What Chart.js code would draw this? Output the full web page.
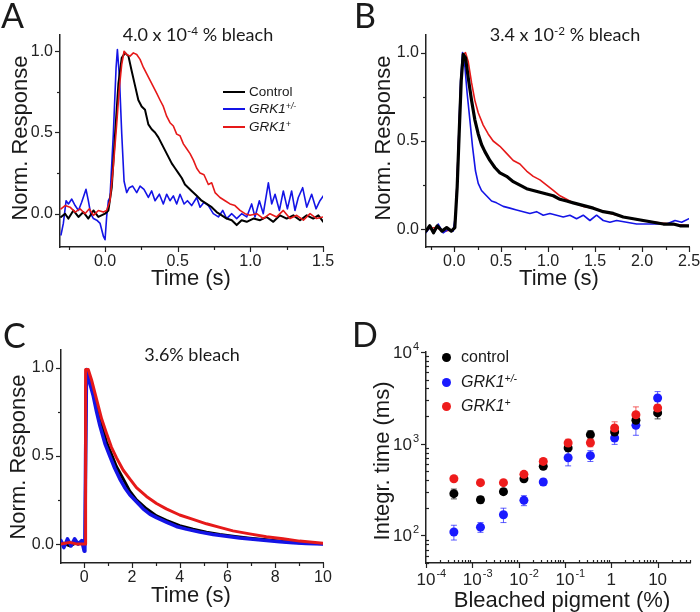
<!DOCTYPE html>
<html>
<head>
<meta charset="utf-8">
<script src="https://cdn.jsdelivr.net/npm/chart.js@4.4.1/dist/chart.umd.min.js"></script>
<style>
  html, body { margin: 0; padding: 0; background: #fff; }
  body { position: relative; width: 700px; height: 612px; overflow: hidden;
         font-family: "Liberation Sans", Arial, sans-serif; color: #1a1a1a; }
  canvas { position: absolute; left: 0; top: 0; }
  .t { position: absolute; white-space: nowrap; line-height: 1; z-index: 5; }
  .letter { font-family: Lato, sans-serif; font-size: 34px; }
  .title { font-family: Lato, sans-serif; font-size: 18px; transform: translateX(-50%); }
  .ytitle { font-size: 22px; transform: translate(-50%, -50%) rotate(-90deg); }
  .xtitle { font-size: 22px; transform: translate(-50%, -50%); }
  sup { font-size: 0.65em; vertical-align: 0.5em; line-height: 0; }
  .leg { position: absolute; z-index: 5; display: flex; align-items: center; white-space: nowrap; line-height: 1; }
  .leg .ln { display: inline-block; width: 22px; height: 2px; margin-right: 4px; }
  .leg .dot { display: inline-block; width: 9px; height: 9px; border-radius: 50%; margin-right: 10px; }
</style>
</head>
<body>
<canvas id="chartA" width="700" height="612"></canvas>
<canvas id="chartB" width="700" height="612"></canvas>
<canvas id="chartC" width="700" height="612"></canvas>
<canvas id="chartD" width="700" height="612"></canvas>

<div class="t letter" style="left:1px;top:-2px">A</div>
<div class="t letter" style="left:354px;top:-2px">B</div>
<div class="t letter" style="left:3px;top:318px">C</div>
<div class="t letter" style="left:352px;top:317px">D</div>

<div class="t title" style="left:198px;top:25px">4.0 x 10<sup>-4</sup> % bleach</div>
<div class="t title" style="left:565px;top:25px">3.4 x 10<sup>-2</sup> % bleach</div>
<div class="t title" style="left:192px;top:345px">3.6% bleach</div>

<div class="t ytitle" style="left:20px;top:138px">Norm. Response</div>
<div class="t ytitle" style="left:383px;top:138px">Norm. Response</div>
<div class="t ytitle" style="left:18px;top:457px">Norm. Response</div>
<div class="t ytitle" style="left:382px;top:461px">Integr. time (ms)</div>
<div class="t xtitle" style="left:191px;top:278px">Time (s)</div>
<div class="t xtitle" style="left:559px;top:278px">Time (s)</div>
<div class="t xtitle" style="left:191px;top:595px">Time (s)</div>
<div class="t xtitle" style="left:562px;top:600px">Bleached pigment (%)</div>

<div class="leg" style="left:223px;top:84px;height:16px;font-size:13.5px"><span class="ln" style="background:#000"></span>Control</div>
<div class="leg" style="left:223px;top:101px;height:16px;font-size:13.5px"><span class="ln" style="background:#1414e6"></span><i>GRK1<sup>+/-</sup></i></div>
<div class="leg" style="left:223px;top:119px;height:16px;font-size:13.5px"><span class="ln" style="background:#e61919"></span><i>GRK1<sup>+</sup></i></div>

<div class="leg" style="left:442px;top:349px;height:16px;font-size:16px"><span class="dot" style="background:#000"></span>control</div>
<div class="leg" style="left:442px;top:374px;height:16px;font-size:16px"><span class="dot" style="background:#1a1aff"></span><i>GRK1<sup>+/-</sup></i></div>
<div class="leg" style="left:442px;top:398px;height:16px;font-size:16px"><span class="dot" style="background:#ee1c1c"></span><i>GRK1<sup>+</sup></i></div>

<script>
// ---- panel A: 4.0e-4 % bleach, [time s, normalised response]
const aControl = [[-0.303,-0.02],[-0.275,0.0],[-0.252,-0.03],[-0.218,0.02],[-0.183,-0.02],[-0.149,0.01],[-0.115,-0.03],[-0.08,0.02],[-0.046,-0.02],[0,0],[0.023,0.02],[0.046,0.16],[0.069,0.49],[0.092,0.8],[0.115,0.96],[0.138,0.99],[0.161,0.97],[0.183,0.88],[0.206,0.79],[0.229,0.7],[0.252,0.66],[0.275,0.64],[0.298,0.55],[0.321,0.52],[0.344,0.5],[0.367,0.47],[0.39,0.43],[0.413,0.39],[0.436,0.35],[0.459,0.31],[0.482,0.28],[0.505,0.25],[0.528,0.22],[0.55,0.18],[0.573,0.16],[0.596,0.14],[0.631,0.11],[0.665,0.08],[0.7,0.06],[0.734,0.04],[0.768,0.01],[0.803,-0.01],[0.837,-0.03],[0.872,-0.04],[0.906,-0.07],[0.94,-0.04],[0.975,-0.05],[1.021,-0.03],[1.067,-0.04],[1.112,-0.02],[1.158,-0.05],[1.204,-0.01],[1.25,-0.03],[1.296,-0.01],[1.342,-0.04],[1.388,-0.01],[1.433,-0.03],[1.468,-0.01],[1.502,-0.05]];
const aHet = [[-0.303,-0.13],[-0.287,-0.06],[-0.268,0.08],[-0.252,0.06],[-0.229,0.09],[-0.206,0.05],[-0.183,0.02],[-0.161,0.07],[-0.131,0.15],[-0.115,0.08],[-0.099,0.0],[-0.08,-0.03],[-0.057,-0.04],[-0.034,-0.06],[-0.011,-0.14],[0,-0.16],[0.011,-0.02],[0.023,0.08],[0.034,0.1],[0.057,0.49],[0.076,0.9],[0.085,1.01],[0.099,0.84],[0.115,0.49],[0.131,0.2],[0.149,0.13],[0.167,0.16],[0.19,0.17],[0.218,0.13],[0.241,0.17],[0.268,0.15],[0.298,0.1],[0.321,0.14],[0.344,0.08],[0.374,0.12],[0.401,0.06],[0.424,0.12],[0.447,0.08],[0.47,0.11],[0.493,0.06],[0.516,0.12],[0.544,0.06],[0.567,0.08],[0.596,0.05],[0.631,0.1],[0.654,0.04],[0.681,0.07],[0.711,0.05],[0.745,0.0],[0.78,-0.02],[0.81,0.02],[0.837,-0.03],[0.872,0.0],[0.906,-0.03],[0.94,0.0],[0.975,-0.02],[1.009,0.06],[1.032,-0.02],[1.062,0.08],[1.089,0.0],[1.124,0.19],[1.147,0.06],[1.17,0.12],[1.2,0.02],[1.227,0.14],[1.255,0.03],[1.284,0.14],[1.307,0.02],[1.33,0.1],[1.36,0.16],[1.388,0.04],[1.422,0.12],[1.452,0.03],[1.479,0.08],[1.502,0.11]];
const aOver = [[-0.303,0.03],[-0.275,0.05],[-0.241,0.04],[-0.206,0.01],[-0.172,0.03],[-0.138,0.0],[-0.108,0.03],[-0.08,-0.01],[-0.046,0.02],[-0.011,0.01],[0.011,0.02],[0.034,0.08],[0.057,0.29],[0.08,0.55],[0.099,0.78],[0.115,0.92],[0.131,1.0],[0.149,0.98],[0.172,0.97],[0.195,0.99],[0.218,0.98],[0.241,0.95],[0.264,0.9],[0.287,0.86],[0.31,0.82],[0.333,0.78],[0.356,0.74],[0.378,0.7],[0.401,0.66],[0.424,0.6],[0.447,0.56],[0.47,0.54],[0.493,0.49],[0.516,0.48],[0.539,0.43],[0.562,0.4],[0.585,0.37],[0.608,0.33],[0.631,0.28],[0.654,0.25],[0.681,0.24],[0.711,0.18],[0.734,0.19],[0.757,0.13],[0.791,0.1],[0.826,0.08],[0.86,0.06],[0.894,0.05],[0.929,0.02],[0.963,0.0],[0.998,-0.01],[1.044,0.0],[1.089,-0.03],[1.135,0.0],[1.181,-0.02],[1.227,0.02],[1.273,-0.03],[1.319,-0.01],[1.365,-0.04],[1.411,0.0],[1.456,-0.03],[1.502,-0.02]];
const aXTicks = [-0.25, 0, 0.25, 0.5, 0.75, 1, 1.25, 1.5];
const aXLabels = ['', '0.0', '', '0.5', '', '1.0', '', '1.5'];

// ---- panel B: 3.4e-2 % bleach
const bControl = [[-0.3,-0.01],[-0.26,0.02],[-0.22,-0.02],[-0.18,0.02],[-0.13,-0.01],[-0.08,0.01],[-0.03,-0.01],[0.007,0.01],[0.032,0.24],[0.053,0.54],[0.075,0.84],[0.096,0.99],[0.121,0.97],[0.149,0.86],[0.185,0.73],[0.22,0.62],[0.256,0.54],[0.291,0.48],[0.327,0.44],[0.38,0.39],[0.433,0.35],[0.487,0.32],[0.558,0.3],[0.629,0.27],[0.7,0.25],[0.771,0.23],[0.842,0.22],[0.913,0.21],[0.984,0.2],[1.055,0.19],[1.126,0.17],[1.197,0.16],[1.268,0.15],[1.339,0.14],[1.41,0.13],[1.481,0.12],[1.587,0.1],[1.694,0.09],[1.8,0.07],[1.907,0.06],[2.013,0.05],[2.12,0.04],[2.227,0.03],[2.333,0.03],[2.404,0.02],[2.5,0.02]];
const bHet = [[-0.302,-0.02],[-0.259,0.01],[-0.206,-0.01],[-0.17,0.03],[-0.117,-0.02],[-0.064,0.0],[-0.011,-0.01],[0.018,0.09],[0.043,0.45],[0.067,0.83],[0.089,1.0],[0.114,0.92],[0.138,0.77],[0.167,0.62],[0.195,0.47],[0.227,0.33],[0.256,0.26],[0.291,0.22],[0.344,0.19],[0.398,0.16],[0.451,0.15],[0.522,0.13],[0.593,0.12],[0.664,0.11],[0.735,0.1],[0.806,0.09],[0.877,0.1],[0.948,0.08],[1.019,0.09],[1.09,0.08],[1.161,0.07],[1.232,0.08],[1.303,0.06],[1.374,0.08],[1.445,0.05],[1.516,0.08],[1.587,0.05],[1.658,0.04],[1.729,0.05],[1.836,0.04],[1.942,0.03],[2.049,0.03],[2.156,0.03],[2.262,0.03],[2.351,0.05],[2.422,0.04],[2.5,0.06]];
const bOver = [[-0.3,0.0],[-0.2,0.01],[-0.1,-0.01],[0.0,0.0],[0.018,0.09],[0.043,0.45],[0.071,0.83],[0.096,0.99],[0.121,1.0],[0.149,0.95],[0.185,0.83],[0.22,0.73],[0.256,0.66],[0.309,0.59],[0.362,0.54],[0.415,0.5],[0.487,0.47],[0.558,0.43],[0.629,0.39],[0.7,0.37],[0.771,0.33],[0.842,0.3],[0.913,0.28],[0.984,0.25],[1.055,0.22],[1.126,0.19],[1.197,0.17],[1.268,0.15],[1.374,0.13],[1.481,0.12],[1.6,0.1],[1.8,0.07],[2.0,0.05],[2.2,0.035],[2.4,0.025],[2.5,0.02]];
const bXTicks = [-0.25, 0, 0.25, 0.5, 0.75, 1, 1.25, 1.5, 1.75, 2, 2.25, 2.5];
const bXLabels = ['', '0.0', '', '0.5', '', '1.0', '', '1.5', '', '2.0', '', '2.5'];

// ---- panel C: 3.6 % bleach
const cControl = [[-0.97,0.01],[-0.6,-0.01],[-0.3,0.01],[0.0,0.0],[0.04,0.0],[0.08,0.9],[0.1,0.99],[0.31,0.9],[0.52,0.79],[0.73,0.68],[0.93,0.58],[1.14,0.51],[1.35,0.44],[1.63,0.37],[1.91,0.3],[2.19,0.25],[2.61,0.2],[3.03,0.16],[3.44,0.135],[4.0,0.105],[4.56,0.085],[5.12,0.068],[5.68,0.055],[6.23,0.045],[6.93,0.034],[7.63,0.025],[8.33,0.015],[9.02,0.008],[10,0.002]];
const cHet = [[-0.97,0.02],[-0.85,-0.02],[-0.7,0.03],[-0.55,-0.01],[-0.4,0.03],[-0.25,0.0],[-0.1,0.02],[0.0,-0.04],[0.03,-0.03],[0.06,0.5],[0.1,0.99],[0.24,0.91],[0.38,0.84],[0.52,0.75],[0.66,0.67],[0.87,0.57],[1.07,0.5],[1.28,0.43],[1.49,0.37],[1.7,0.32],[1.91,0.28],[2.19,0.24],[2.47,0.2],[2.75,0.17],[3.03,0.15],[3.44,0.125],[3.86,0.1],[4.28,0.085],[4.84,0.068],[5.4,0.055],[5.96,0.045],[6.51,0.035],[7.07,0.027],[7.63,0.02],[8.19,0.014],[8.75,0.008],[9.3,0.003],[10,0.0]];
const cOver = [[-0.97,0.0],[-0.6,0.01],[-0.3,0.0],[0.0,0.0],[0.05,0.0],[0.06,0.99],[0.17,0.99],[0.31,0.93],[0.52,0.82],[0.73,0.71],[0.93,0.63],[1.14,0.55],[1.35,0.49],[1.63,0.42],[1.91,0.37],[2.19,0.32],[2.61,0.27],[3.03,0.23],[3.44,0.2],[4.0,0.165],[4.56,0.14],[5.12,0.115],[5.68,0.095],[6.23,0.075],[6.93,0.058],[7.63,0.042],[8.33,0.03],[9.02,0.017],[10,0.005]];
const cXTicks = [0, 1, 2, 3, 4, 5, 6, 7, 8, 9, 10];
const cXLabels = ['0', '', '2', '', '4', '', '6', '', '8', '', '10'];

const respTicks = [0, 0.25, 0.5, 0.75, 1.0];
const respLabels = ['0.0', '', '0.5', '', '1.0'];

// ---- panel D: integration time vs bleached pigment
const dBleach = [4e-4, 1.5e-3, 4.7e-3, 1.3e-2, 3.4e-2, 0.117, 0.354, 1.18, 3.4, 10];
const dControl = [285, 245, 300, 415, 566, 900, 1255, 1340, 1800, 2165];
const dControlErr = [35, 20, 20, 30, 40, 80, 130, 130, 200, 300];
const dHet = [109, 123, 168, 241, 382, 703, 740, 1153, 1585, 3150];
const dHetErr = [20, 15, 30, 30, 30, 130, 100, 170, 350, 550];
const dOver = [415, 376, 376, 463, 641, 1017, 1025, 1482, 2070, 2450];
const dOverErr = [20, 15, 15, 30, 40, 100, 100, 250, 450, 200];
const dXMajor = [1e-4, 1e-3, 1e-2, 1e-1, 1, 10];
const dXLabels = ['10^-4', '10^-3', '10^-2', '10^-1', '1', '10'];
const dYMajor = [100, 1000, 10000];
const dYLabels = ['10^2', '10^3', '10^4'];

const INK = '#222';
const BLACK = '#000';
const BLUE = '#1414e6';
const RED = '#e61919';

// small outward tick marks, majors longer
const tickMarks = {
  id: 'tickMarks',
  afterDraw(chart, args, opts) {
    const ctx = chart.ctx;
    ctx.save();
    ctx.strokeStyle = INK;
    ctx.lineWidth = 1.2;
    ['x', 'y'].forEach(id => {
      const s = chart.scales[id];
      s.ticks.forEach(t => {
        const major = t.label !== '' && t.label !== undefined;
        const len = major ? 5 : 3;
        const dir = (!major && opts.minorIn) ? -1 : 1;
        const p = Math.round(s.getPixelForValue(t.value)) + 0.5;
        ctx.beginPath();
        if (id === 'x') { ctx.moveTo(p, s.top); ctx.lineTo(p, s.top + dir * len); }
        else { ctx.moveTo(s.right, p); ctx.lineTo(s.right - dir * len, p); }
        ctx.stroke();
      });
    });
    ctx.restore();
  }
};

function xyOf(pairs) {
  return pairs.map(p => ({ x: p[0], y: p[1] }));
}

function trace(pairs, color, width, order) {
  return { data: xyOf(pairs), borderColor: color, borderWidth: width,
           borderJoinStyle: 'round', borderCapStyle: 'round',
           pointRadius: 0, tension: 0, fill: false, order };
}

function fixedBox(size, horizontal) {
  return s => {
    if (horizontal) { s.height = size; s.paddingLeft = 0; s.paddingRight = 0; }
    else { s.width = size; s.paddingTop = 0; s.paddingBottom = 0; }
  };
}

function tracePanel(id, area, xr, yr, xTicks, xLabels, datasets) {
  new Chart(document.getElementById(id), {
    type: 'line',
    data: { datasets },
    options: {
      responsive: false,
      animation: false,
      devicePixelRatio: 1,
      layout: { padding: { left: area.l - 50, right: 700 - area.r, top: area.t, bottom: 612 - area.b - 40 } },
      plugins: { legend: { display: false }, tooltip: { enabled: false }, tickMarks: { minorIn: false } },
      scales: {
        x: {
          type: 'linear', min: xr[0], max: xr[1],
          afterBuildTicks: s => { s.ticks = xTicks.map(v => ({ value: v })); },
          afterFit: fixedBox(40, true),
          ticks: { callback: (v, i) => xLabels[i], font: { family: 'Liberation Sans', size: 16 },
                   color: INK, padding: 5, maxRotation: 0, autoSkip: false },
          grid: { display: false, drawTicks: false },
          border: { color: INK, width: 1.5 }
        },
        y: {
          type: 'linear', min: yr[0], max: yr[1],
          afterBuildTicks: s => { s.ticks = respTicks.map(v => ({ value: v })); },
          afterFit: fixedBox(50, false),
          ticks: { callback: (v, i) => respLabels[i], font: { family: 'Liberation Sans', size: 16 },
                   color: INK, padding: 7, autoSkip: false },
          grid: { display: false, drawTicks: false },
          border: { color: INK, width: 1.5 }
        }
      }
    },
    plugins: [tickMarks]
  });
}

tracePanel('chartA', { l: 60, r: 323, t: 35, b: 247 }, [-0.31, 1.5], [-0.205, 1.1], aXTicks, aXLabels, [
  trace(aOver, RED, 1.6, 0),
  trace(aControl, BLACK, 2, 1),
  trace(aHet, BLUE, 1.6, 2)
]);

tracePanel('chartB', { l: 426, r: 689, t: 35, b: 247 }, [-0.3, 2.5], [-0.1, 1.1], bXTicks, bXLabels, [
  trace(bControl, BLACK, 3.2, 0),
  trace(bHet, BLUE, 1.6, 1),
  trace(bOver, RED, 1.6, 2)
]);

tracePanel('chartC', { l: 61, r: 323, t: 350, b: 563 }, [-0.97, 10], [-0.107, 1.1], cXTicks, cXLabels, [
  trace(cOver, RED, 3, 0),
  trace(cHet, BLUE, 3.5, 1),
  trace(cControl, BLACK, 3, 2)
]);

// ---- panel D helpers
function logTicks(lo, hi) {
  const out = [];
  for (let e = Math.floor(Math.log10(lo)); e <= Math.ceil(Math.log10(hi)); e++) {
    for (let m = 1; m <= 9; m++) {
      const v = +(m * Math.pow(10, e)).toPrecision(3);
      if (v >= lo * 0.999 && v <= hi * 1.001) out.push(v);
    }
  }
  return out;
}

function labelFor(majors, labels) {
  return v => {
    const i = majors.findIndex(m => Math.abs(Math.log10(m) - Math.log10(v)) < 1e-6);
    return i >= 0 ? labels[i] : '';
  };
}

function drawPower(ctx, text, x, y, align) {
  const parts = text.split('^');
  ctx.font = '17px "Liberation Sans"';
  const bw = ctx.measureText(parts[0]).width;
  ctx.font = '11px "Liberation Sans"';
  const ew = parts[1] ? ctx.measureText(parts[1]).width + 1 : 0;
  const left = align === 'center' ? x - bw / 2 : x - bw - ew;
  ctx.textAlign = 'left';
  ctx.textBaseline = 'alphabetic';
  ctx.font = '17px "Liberation Sans"';
  ctx.fillText(parts[0], left, y);
  if (parts[1]) {
    ctx.font = '11px "Liberation Sans"';
    ctx.fillText(parts[1], left + bw + 1, y - 8);
  }
}

const powerLabels = {
  id: 'powerLabels',
  afterDraw(chart) {
    const { ctx, scales: { x, y } } = chart;
    ctx.save();
    ctx.fillStyle = INK;
    x.ticks.forEach(t => {
      if (t.label) drawPower(ctx, t.label, x.getPixelForValue(t.value), x.top + 22, 'center');
    });
    y.ticks.forEach(t => {
      if (t.label) drawPower(ctx, t.label, y.right - 7, y.getPixelForValue(t.value) + 6, 'right');
    });
    ctx.restore();
  }
};

const errorBars = {
  id: 'errorBars',
  beforeDatasetsDraw(chart) {
    const { ctx, scales: { x, y } } = chart;
    chart.data.datasets.forEach(ds => {
      ctx.save();
      ctx.strokeStyle = ds.errorColor;
      ctx.lineWidth = 1;
      ds.data.forEach((pt, j) => {
        const e = ds.errors[j];
        const px = x.getPixelForValue(pt.x);
        const top = y.getPixelForValue(pt.y + e);
        const bot = y.getPixelForValue(pt.y - e);
        ctx.beginPath();
        ctx.moveTo(px, top); ctx.lineTo(px, bot);
        ctx.moveTo(px - 3, top); ctx.lineTo(px + 3, top);
        ctx.moveTo(px - 3, bot); ctx.lineTo(px + 3, bot);
        ctx.stroke();
      });
      ctx.restore();
    });
  }
};

function points(values, errs, color, errColor, order) {
  return {
    data: dBleach.map((b, i) => ({ x: b, y: values[i] })),
    errors: errs, errorColor: errColor,
    backgroundColor: color, borderWidth: 0, pointRadius: 4.5, order
  };
}

const dArea = { l: 426, r: 690, t: 352, b: 563 };
const dXTicks = logTicks(1e-4, 50);
const dYTicks = logTicks(50, 10000);

new Chart(document.getElementById('chartD'), {
  type: 'scatter',
  data: {
    datasets: [
      points(dOver, dOverErr, '#ee1c1c', 'rgba(238,28,28,0.7)', 0),
      points(dControl, dControlErr, '#000', 'rgba(0,0,0,0.7)', 1),
      points(dHet, dHetErr, '#1a1aff', 'rgba(26,26,255,0.7)', 2)
    ]
  },
  options: {
    responsive: false,
    animation: false,
    devicePixelRatio: 1,
    layout: { padding: { left: dArea.l - 50, right: 700 - dArea.r, top: dArea.t, bottom: 612 - dArea.b - 40 } },
    plugins: { legend: { display: false }, tooltip: { enabled: false }, tickMarks: { minorIn: true } },
    scales: {
      x: {
        type: 'logarithmic', min: 1e-4, max: 50,
        afterBuildTicks: s => { s.ticks = dXTicks.map(v => ({ value: v })); },
        afterFit: fixedBox(40, true),
        ticks: { callback: labelFor(dXMajor, dXLabels), color: 'rgba(0,0,0,0)', autoSkip: false, maxRotation: 0,
                 font: { family: 'Liberation Sans', size: 16 } },
        grid: { display: false, drawTicks: false },
        border: { color: INK, width: 1.5 }
      },
      y: {
        type: 'logarithmic', min: 50, max: 10000,
        afterBuildTicks: s => { s.ticks = dYTicks.map(v => ({ value: v })); },
        afterFit: fixedBox(50, false),
        ticks: { callback: labelFor(dYMajor, dYLabels), color: 'rgba(0,0,0,0)', autoSkip: false,
                 font: { family: 'Liberation Sans', size: 16 } },
        grid: { display: false, drawTicks: false },
        border: { color: INK, width: 1.5 }
      }
    }
  },
  plugins: [errorBars, tickMarks, powerLabels]
});
</script>
</body>
</html>
